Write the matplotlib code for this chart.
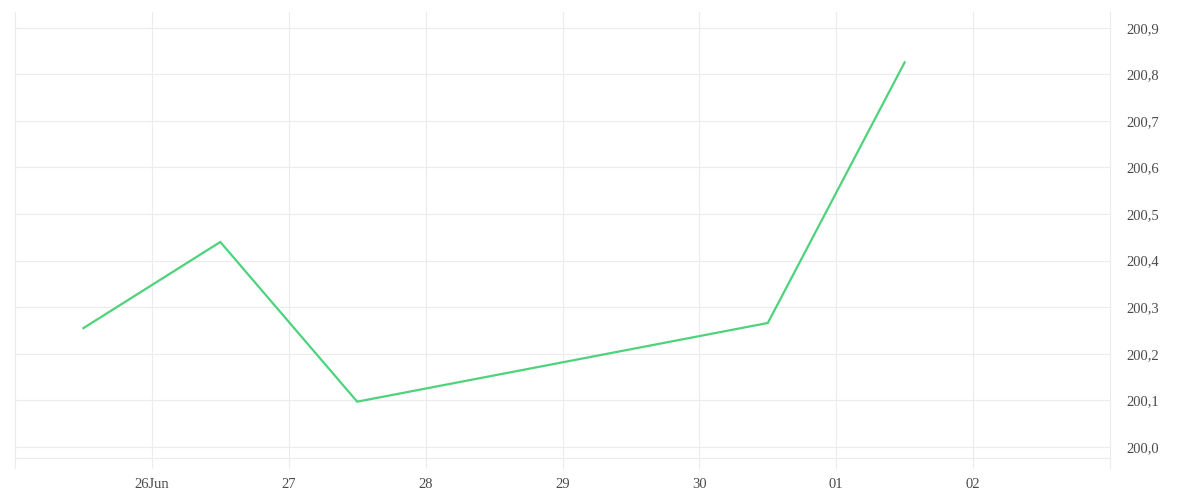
import matplotlib
matplotlib.use("Agg")
import matplotlib.pyplot as plt
import matplotlib.dates as mdates
import numpy as np
from datetime import datetime

# data
dates = [datetime(2023, 6, 25, 12), datetime(2023, 6, 26, 12), datetime(2023, 6, 27, 12),
         datetime(2023, 6, 30, 12), datetime(2023, 7, 1, 12)]
values = [200.255, 200.440, 200.097, 200.266, 200.826]

tick_dates = [datetime(2023, 6, d) for d in range(26, 31)] + [datetime(2023, 7, 1), datetime(2023, 7, 2)]
tick_labels = ["26Jun", "27", "28", "29", "30", "01", "02"]
y_ticks = [200.0 + i / 10 for i in range(10)]

grid_col = "#ececec"
text_col = "#4a4a4a"

plt.rcParams["font.family"] = ["Liberation Serif", "DejaVu Serif"]

fig = plt.figure(figsize=(12, 5), dpi=100)
ax = fig.add_axes([0.0125, 0.084, 0.9125, 0.892])

ax.plot(dates, values, color="#4fd27c", linewidth=1.6, solid_joinstyle="miter", zorder=3)

ax.set_xlim(datetime(2023, 6, 25), datetime(2023, 7, 3))
ax.set_ylim(199.976, 200.934)

ax.set_xticks([mdates.date2num(d) for d in tick_dates])
ax.set_xticklabels(tick_labels)
ax.set_yticks(y_ticks)
ax.set_yticklabels([f"{v:.1f}".replace(".", ",") for v in y_ticks])

ax.yaxis.tick_right()
ax.tick_params(axis="y", length=0, pad=12, labelsize=10.5, labelcolor=text_col)
ax.tick_params(axis="x", length=7.5, width=0.8, color=grid_col, pad=7, labelsize=10.5, labelcolor=text_col)

ax.grid(True, color=grid_col, linewidth=0.8)
ax.set_axisbelow(True)

for s in ["top", "left", "right"]:
    ax.spines[s].set_visible(False)
ax.spines["bottom"].set_color(grid_col)
ax.spines["bottom"].set_linewidth(0.8)

# frame edges reaching below the bottom line like the ticks
for xe in ax.get_xlim():
    ax.axvline(xe, ymin=-0.022, ymax=1, color=grid_col, linewidth=0.8, clip_on=False)

fig.savefig("out.png", dpi=100, facecolor="white")
